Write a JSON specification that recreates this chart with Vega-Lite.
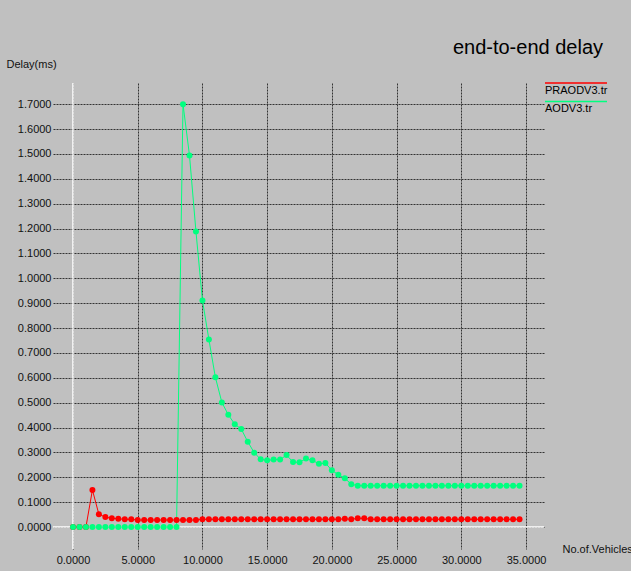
{
  "$schema": "https://vega.github.io/schema/vega-lite/v6.json",
  "width": 491,
  "height": 466,
  "autosize": {"type": "none"},
  "padding": {"left": 53, "top": 83, "right": 87, "bottom": 22},
  "background": "#c0c0c0",
  "title": {"text": "end-to-end delay", "anchor": "end", "frame": "group", "fontSize": 20, "fontWeight": "normal", "color": "black", "font": "Liberation Sans", "dx": 59, "offset": 4, "dy": 4},
  "config": {
    "view": {"stroke": null},
    "font": "Liberation Sans",
    "axisX": {
      "tickCount": 8, "format": ".4f",
      "domain": false, "ticks": false, "tickSize": 0,
      "labelPadding": 11, "labelBaseline": "middle", "labelFlush": false, "labelOverlap": false,
      "labelFont": "Liberation Sans", "labelFontSize": 11, "labelColor": "#111",
      "grid": true, "gridColor": "#333", "gridDash": [2, 1], "gridWidth": 1,
      "titleX": 509, "titleY": 0, "titleAlign": "left", "titleBaseline": "middle",
      "titleFont": "Liberation Sans", "titleFontSize": 11, "titleFontWeight": "normal", "titleColor": "#111"
    },
    "axisY": {
      "tickCount": 18, "format": ".4f",
      "domain": false, "ticks": false, "tickSize": 0,
      "labelPadding": 2, "labelFlush": false, "labelOverlap": false,
      "labelFont": "Liberation Sans", "labelFontSize": 11, "labelColor": "#111",
      "grid": true, "gridColor": "#333", "gridDash": [2, 1], "gridWidth": 1,
      "titleX": -47, "titleY": -19, "titleAngle": 0, "titleAlign": "left", "titleBaseline": "middle",
      "titleFont": "Liberation Sans", "titleFontSize": 11, "titleFontWeight": "normal", "titleColor": "#111"
    }
  },
  "datasets": {
    "delay": [
      {"s": "PRAODV3.tr", "x": 0, "y": 0}, {"s": "PRAODV3.tr", "x": 0.5, "y": 0}, {"s": "PRAODV3.tr", "x": 1, "y": 0},
      {"s": "PRAODV3.tr", "x": 1.5, "y": 0.149}, {"s": "PRAODV3.tr", "x": 2, "y": 0.051}, {"s": "PRAODV3.tr", "x": 2.5, "y": 0.040},
      {"s": "PRAODV3.tr", "x": 3, "y": 0.035}, {"s": "PRAODV3.tr", "x": 3.5, "y": 0.033}, {"s": "PRAODV3.tr", "x": 4, "y": 0.031},
      {"s": "PRAODV3.tr", "x": 4.5, "y": 0.031}, {"s": "PRAODV3.tr", "x": 5, "y": 0.028}, {"s": "PRAODV3.tr", "x": 5.5, "y": 0.028},
      {"s": "PRAODV3.tr", "x": 6, "y": 0.028}, {"s": "PRAODV3.tr", "x": 6.5, "y": 0.028}, {"s": "PRAODV3.tr", "x": 7, "y": 0.028},
      {"s": "PRAODV3.tr", "x": 7.5, "y": 0.028}, {"s": "PRAODV3.tr", "x": 8, "y": 0.028}, {"s": "PRAODV3.tr", "x": 8.5, "y": 0.028},
      {"s": "PRAODV3.tr", "x": 9, "y": 0.028}, {"s": "PRAODV3.tr", "x": 9.5, "y": 0.028}, {"s": "PRAODV3.tr", "x": 10, "y": 0.031},
      {"s": "PRAODV3.tr", "x": 10.5, "y": 0.031}, {"s": "PRAODV3.tr", "x": 11, "y": 0.031}, {"s": "PRAODV3.tr", "x": 11.5, "y": 0.031},
      {"s": "PRAODV3.tr", "x": 12, "y": 0.031}, {"s": "PRAODV3.tr", "x": 12.5, "y": 0.031}, {"s": "PRAODV3.tr", "x": 13, "y": 0.031},
      {"s": "PRAODV3.tr", "x": 13.5, "y": 0.031}, {"s": "PRAODV3.tr", "x": 14, "y": 0.031}, {"s": "PRAODV3.tr", "x": 14.5, "y": 0.031},
      {"s": "PRAODV3.tr", "x": 15, "y": 0.031}, {"s": "PRAODV3.tr", "x": 15.5, "y": 0.031}, {"s": "PRAODV3.tr", "x": 16, "y": 0.031},
      {"s": "PRAODV3.tr", "x": 16.5, "y": 0.031}, {"s": "PRAODV3.tr", "x": 17, "y": 0.031}, {"s": "PRAODV3.tr", "x": 17.5, "y": 0.031},
      {"s": "PRAODV3.tr", "x": 18, "y": 0.031}, {"s": "PRAODV3.tr", "x": 18.5, "y": 0.031}, {"s": "PRAODV3.tr", "x": 19, "y": 0.031},
      {"s": "PRAODV3.tr", "x": 19.5, "y": 0.031}, {"s": "PRAODV3.tr", "x": 20, "y": 0.031}, {"s": "PRAODV3.tr", "x": 20.5, "y": 0.031},
      {"s": "PRAODV3.tr", "x": 21, "y": 0.033}, {"s": "PRAODV3.tr", "x": 21.5, "y": 0.031}, {"s": "PRAODV3.tr", "x": 22, "y": 0.035},
      {"s": "PRAODV3.tr", "x": 22.5, "y": 0.035}, {"s": "PRAODV3.tr", "x": 23, "y": 0.031}, {"s": "PRAODV3.tr", "x": 23.5, "y": 0.031},
      {"s": "PRAODV3.tr", "x": 24, "y": 0.031}, {"s": "PRAODV3.tr", "x": 24.5, "y": 0.031}, {"s": "PRAODV3.tr", "x": 25, "y": 0.031},
      {"s": "PRAODV3.tr", "x": 25.5, "y": 0.031}, {"s": "PRAODV3.tr", "x": 26, "y": 0.031}, {"s": "PRAODV3.tr", "x": 26.5, "y": 0.031},
      {"s": "PRAODV3.tr", "x": 27, "y": 0.031}, {"s": "PRAODV3.tr", "x": 27.5, "y": 0.031}, {"s": "PRAODV3.tr", "x": 28, "y": 0.031},
      {"s": "PRAODV3.tr", "x": 28.5, "y": 0.031}, {"s": "PRAODV3.tr", "x": 29, "y": 0.031}, {"s": "PRAODV3.tr", "x": 29.5, "y": 0.031},
      {"s": "PRAODV3.tr", "x": 30, "y": 0.031}, {"s": "PRAODV3.tr", "x": 30.5, "y": 0.031}, {"s": "PRAODV3.tr", "x": 31, "y": 0.031},
      {"s": "PRAODV3.tr", "x": 31.5, "y": 0.031}, {"s": "PRAODV3.tr", "x": 32, "y": 0.031}, {"s": "PRAODV3.tr", "x": 32.5, "y": 0.031},
      {"s": "PRAODV3.tr", "x": 33, "y": 0.031}, {"s": "PRAODV3.tr", "x": 33.5, "y": 0.031}, {"s": "PRAODV3.tr", "x": 34, "y": 0.031},
      {"s": "PRAODV3.tr", "x": 34.5, "y": 0.031},
      {"s": "AODV3.tr", "x": 0, "y": 0}, {"s": "AODV3.tr", "x": 0.5, "y": 0}, {"s": "AODV3.tr", "x": 1, "y": 0},
      {"s": "AODV3.tr", "x": 1.5, "y": 0}, {"s": "AODV3.tr", "x": 2, "y": 0}, {"s": "AODV3.tr", "x": 2.5, "y": 0},
      {"s": "AODV3.tr", "x": 3, "y": 0}, {"s": "AODV3.tr", "x": 3.5, "y": 0}, {"s": "AODV3.tr", "x": 4, "y": 0},
      {"s": "AODV3.tr", "x": 4.5, "y": 0}, {"s": "AODV3.tr", "x": 5, "y": 0}, {"s": "AODV3.tr", "x": 5.5, "y": 0},
      {"s": "AODV3.tr", "x": 6, "y": 0}, {"s": "AODV3.tr", "x": 6.5, "y": 0}, {"s": "AODV3.tr", "x": 7, "y": 0},
      {"s": "AODV3.tr", "x": 7.5, "y": 0}, {"s": "AODV3.tr", "x": 8, "y": 0}, {"s": "AODV3.tr", "x": 8.5, "y": 1.700},
      {"s": "AODV3.tr", "x": 9, "y": 1.494}, {"s": "AODV3.tr", "x": 9.5, "y": 1.188}, {"s": "AODV3.tr", "x": 10, "y": 0.911},
      {"s": "AODV3.tr", "x": 10.5, "y": 0.754}, {"s": "AODV3.tr", "x": 11, "y": 0.602}, {"s": "AODV3.tr", "x": 11.5, "y": 0.501},
      {"s": "AODV3.tr", "x": 12, "y": 0.451}, {"s": "AODV3.tr", "x": 12.5, "y": 0.413}, {"s": "AODV3.tr", "x": 13, "y": 0.394},
      {"s": "AODV3.tr", "x": 13.5, "y": 0.343}, {"s": "AODV3.tr", "x": 14, "y": 0.299}, {"s": "AODV3.tr", "x": 14.5, "y": 0.272},
      {"s": "AODV3.tr", "x": 15, "y": 0.268}, {"s": "AODV3.tr", "x": 15.5, "y": 0.271}, {"s": "AODV3.tr", "x": 16, "y": 0.271},
      {"s": "AODV3.tr", "x": 16.5, "y": 0.289}, {"s": "AODV3.tr", "x": 17, "y": 0.261}, {"s": "AODV3.tr", "x": 17.5, "y": 0.260},
      {"s": "AODV3.tr", "x": 18, "y": 0.275}, {"s": "AODV3.tr", "x": 18.5, "y": 0.268}, {"s": "AODV3.tr", "x": 19, "y": 0.254},
      {"s": "AODV3.tr", "x": 19.5, "y": 0.257}, {"s": "AODV3.tr", "x": 20, "y": 0.228}, {"s": "AODV3.tr", "x": 20.5, "y": 0.210},
      {"s": "AODV3.tr", "x": 21, "y": 0.196}, {"s": "AODV3.tr", "x": 21.5, "y": 0.172}, {"s": "AODV3.tr", "x": 22, "y": 0.166},
      {"s": "AODV3.tr", "x": 22.5, "y": 0.166}, {"s": "AODV3.tr", "x": 23, "y": 0.166}, {"s": "AODV3.tr", "x": 23.5, "y": 0.166},
      {"s": "AODV3.tr", "x": 24, "y": 0.166}, {"s": "AODV3.tr", "x": 24.5, "y": 0.166}, {"s": "AODV3.tr", "x": 25, "y": 0.166},
      {"s": "AODV3.tr", "x": 25.5, "y": 0.166}, {"s": "AODV3.tr", "x": 26, "y": 0.166}, {"s": "AODV3.tr", "x": 26.5, "y": 0.166},
      {"s": "AODV3.tr", "x": 27, "y": 0.166}, {"s": "AODV3.tr", "x": 27.5, "y": 0.166}, {"s": "AODV3.tr", "x": 28, "y": 0.166},
      {"s": "AODV3.tr", "x": 28.5, "y": 0.166}, {"s": "AODV3.tr", "x": 29, "y": 0.166}, {"s": "AODV3.tr", "x": 29.5, "y": 0.166},
      {"s": "AODV3.tr", "x": 30, "y": 0.166}, {"s": "AODV3.tr", "x": 30.5, "y": 0.166}, {"s": "AODV3.tr", "x": 31, "y": 0.166},
      {"s": "AODV3.tr", "x": 31.5, "y": 0.166}, {"s": "AODV3.tr", "x": 32, "y": 0.166}, {"s": "AODV3.tr", "x": 32.5, "y": 0.166},
      {"s": "AODV3.tr", "x": 33, "y": 0.166}, {"s": "AODV3.tr", "x": 33.5, "y": 0.166}, {"s": "AODV3.tr", "x": 34, "y": 0.166},
      {"s": "AODV3.tr", "x": 34.5, "y": 0.166}
    ],
    "zero": [{"x": 0, "y": 0}]
  },
  "layer": [
    {
      "data": {"name": "zero"},
      "mark": {"type": "rule", "color": "white", "strokeWidth": 1.5},
      "encoding": {
        "y": {"field": "y", "type": "quantitative", "scale": {"domain": [-0.0884, 1.785], "nice": false, "zero": false}, "axis": {"title": "Delay(ms)", "tickCount": 18}}
      }
    },
    {
      "data": {"name": "zero"},
      "mark": {"type": "rule", "color": "white", "strokeWidth": 1.5},
      "encoding": {
        "x": {"field": "x", "type": "quantitative", "scale": {"domain": [-1.545, 36.39], "nice": false, "zero": false}, "axis": {"title": "No.of.Vehicles", "tickCount": 8}}
      }
    },
    {
      "data": {"name": "delay"},
      "mark": {"type": "line", "strokeWidth": 1, "interpolate": "linear"},
      "encoding": {
        "x": {"field": "x", "type": "quantitative", "scale": {"domain": [-1.545, 36.39], "nice": false, "zero": false}, "axis": {"title": "No.of.Vehicles", "tickCount": 8}},
        "y": {"field": "y", "type": "quantitative", "scale": {"domain": [-0.0884, 1.785], "nice": false, "zero": false}, "axis": {"title": "Delay(ms)", "tickCount": 18}},
        "color": {
          "field": "s", "type": "nominal",
          "scale": {"domain": ["PRAODV3.tr", "AODV3.tr"], "range": ["#ff0000", "#00ff7f"]},
          "legend": {
            "title": null, "orient": "none", "legendX": 490, "legendY": 2,
            "symbolType": "M-1.4,-3H23.4", "symbolSize": 25, "symbolStrokeWidth": 1.5,
            "labelOffset": -9, "labelFont": "Liberation Sans", "labelFontSize": 11, "labelColor": "black",
            "rowPadding": 2.5, "padding": 0,
            "encode": {"symbols": {"update": {"stroke": {"scale": "color", "field": "value"}, "fill": {"value": "transparent"}}}}
          }
        }
      }
    },
    {
      "data": {"name": "delay"},
      "mark": {"type": "point", "filled": true, "shape": "circle", "size": 36, "opacity": 1},
      "encoding": {
        "x": {"field": "x", "type": "quantitative", "scale": {"domain": [-1.545, 36.39], "nice": false, "zero": false}, "axis": {"title": "No.of.Vehicles", "tickCount": 8}},
        "y": {"field": "y", "type": "quantitative", "scale": {"domain": [-0.0884, 1.785], "nice": false, "zero": false}, "axis": {"title": "Delay(ms)", "tickCount": 18}},
        "color": {"field": "s", "type": "nominal", "scale": {"domain": ["PRAODV3.tr", "AODV3.tr"], "range": ["#ff0000", "#00ff7f"]}}
      }
    }
  ]
}
